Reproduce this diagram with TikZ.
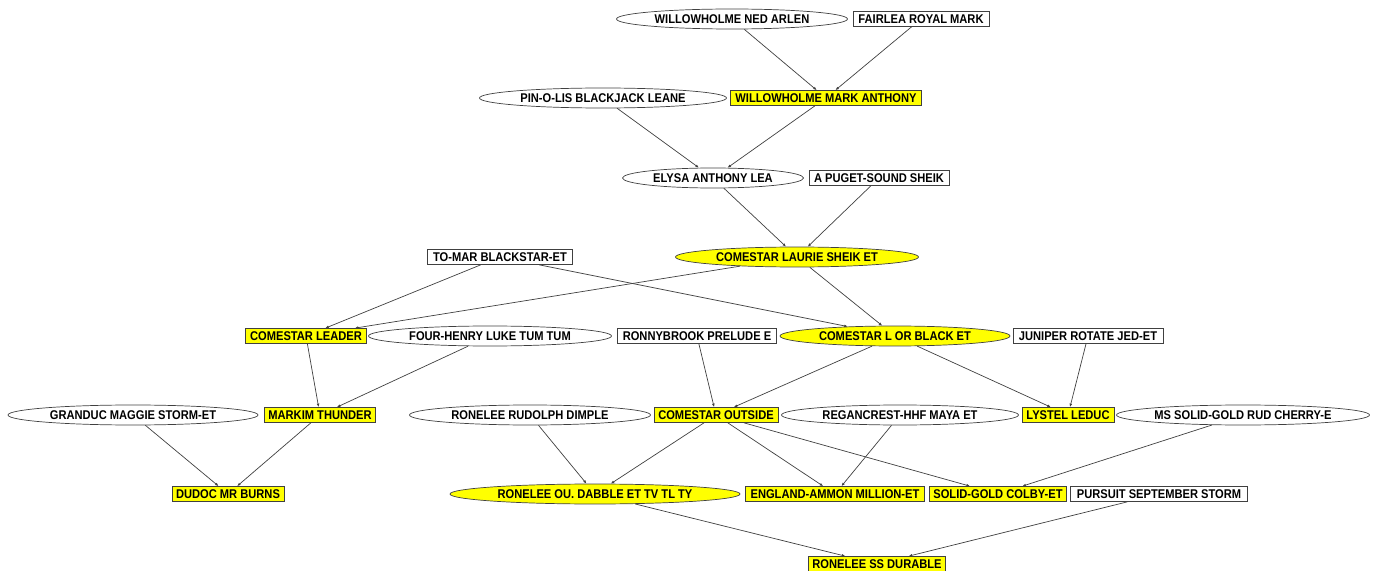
\documentclass[tikz,border=0pt]{standalone}
\usepackage{fontspec}
\setmainfont{Liberation Sans}[FakeStretch=0.88]
\usetikzlibrary{shapes.geometric,arrows.meta}
\usepackage{xcolor}
\definecolor{marked}{rgb}{1.0, 1.0, 0.0}
\definecolor{rim}{rgb}{0.25, 0.25, 0.25}

\begin{document}
\begin{tikzpicture}[x=0.02cm,y=-0.02cm,
    every path/.style={line width=0.4pt},
    every node/.style={inner sep=0,font=\fontsize{7.2}{8}\selectfont\bfseries},
    sq/.style={draw=rim,rectangle,minimum height=0.3cm,minimum width=#1*0.02cm},
    ov/.style={draw=rim,ellipse,minimum height=0.4cm,minimum width=#1*0.02cm},
    hl/.style={fill=marked},
    link/.style={draw=rim,-{Latex[length=2pt,width=1.6pt]}}]

        \useasboundingbox (0,0) rectangle (1374,571);

        % generation 1
        \node[ov=231] (ned) at (732,19) {WILLOWHOLME NED ARLEN};
        \node[sq=136] (fairlea) at (921,19) {FAIRLEA ROYAL MARK};
        % generation 2
        \node[ov=247] (pinolis) at (603,98) {PIN-O-LIS BLACKJACK LEANE};
        \node[sq=191,hl] (markanthony) at (826,98) {WILLOWHOLME MARK ANTHONY};
        % generation 3
        \node[ov=181] (elysa) at (713,178) {ELYSA ANTHONY LEA};
        \node[sq=140] (puget) at (879,178) {A PUGET-SOUND SHEIK};
        % generation 4
        \node[sq=145] (tomar) at (500,257) {TO-MAR BLACKSTAR-ET};
        \node[ov=243,hl] (laurie) at (797,257) {COMESTAR LAURIE SHEIK ET};
        % generation 5
        \node[sq=121,hl] (leader) at (306,336) {COMESTAR LEADER};
        \node[ov=243] (fourhenry) at (490,336) {FOUR-HENRY LUKE TUM TUM};
        \node[sq=159] (ronnybrook) at (697,336) {RONNYBROOK PRELUDE E};
        \node[ov=230,hl] (lorblack) at (895,336) {COMESTAR L OR BLACK ET};
        \node[sq=150] (juniper) at (1088,336) {JUNIPER ROTATE JED-ET};
        % generation 6
        \node[ov=250] (granduc) at (133,415) {GRANDUC MAGGIE STORM-ET};
        \node[sq=111,hl] (markim) at (320,415) {MARKIM THUNDER};
        \node[ov=241] (rudolph) at (530,415) {RONELEE RUDOLPH DIMPLE};
        \node[sq=124,hl] (outside) at (716,415) {COMESTAR OUTSIDE};
        \node[ov=237] (regancrest) at (900,415) {REGANCREST-HHF MAYA ET};
        \node[sq=92,hl] (lystel) at (1068,415) {LYSTEL LEDUC};
        \node[ov=253] (mssolid) at (1243,415) {MS SOLID-GOLD RUD CHERRY-E};
        % generation 7
        \node[sq=112,hl] (dudoc) at (228,494) {DUDOC MR BURNS};
        \node[ov=290,hl] (dabble) at (595,494) {RONELEE OU. DABBLE ET TV TL TY};
        \node[sq=179,hl] (england) at (835,494) {ENGLAND-AMMON MILLION-ET};
        \node[sq=137,hl] (colby) at (998,494) {SOLID-GOLD COLBY-ET};
        \node[sq=177] (pursuit) at (1159,494) {PURSUIT SEPTEMBER STORM};
        % generation 8
        \node[sq=137,hl] (durable) at (877,564) {RONELEE SS DURABLE};

        \foreach \a/\b in {ned/markanthony, fairlea/markanthony,
            pinolis/elysa, markanthony/elysa,
            elysa/laurie, puget/laurie,
            tomar/leader, laurie/leader, tomar/lorblack, laurie/lorblack,
            leader/markim, fourhenry/markim,
            ronnybrook/outside, lorblack/outside,
            lorblack/lystel, juniper/lystel,
            granduc/dudoc, markim/dudoc,
            rudolph/dabble, outside/dabble,
            outside/england, regancrest/england,
            outside/colby, mssolid/colby,
            dabble/durable, pursuit/durable}{
            \draw[link] (\a) -- (\b);
        }

\end{tikzpicture}
\end{document}
